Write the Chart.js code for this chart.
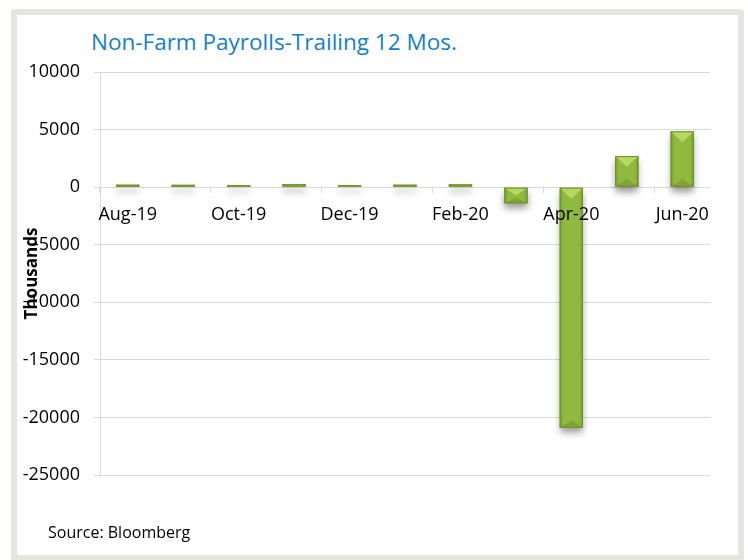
<!DOCTYPE html>
<html>
<head>
<meta charset="utf-8">
<script src="https://cdn.jsdelivr.net/npm/chart.js@4/dist/chart.umd.min.js"></script>
<style>
  body { margin: 0; background: #fff; font-family: 'Open Sans', sans-serif; }
  #wrap { position: relative; width: 748px; height: 560px; overflow: hidden; }
  .frame {
    position: absolute; left: 11px; top: 9px; width: 721px; height: 540px;
    border: 6px solid #e6e6e1; border-radius: 3px; background: #fff;
  }
  .title {
    position: absolute; left: 91px; top: 26px; color: #127fce;
    font-size: 22.5px; white-space: nowrap;
  }
  .source {
    position: absolute; left: 48px; top: 521px; color: #000;
    font-size: 16px; white-space: nowrap;
  }
  canvas { position: absolute; left: 0; top: 0; }
</style>
</head>
<body>
<div id="wrap">
  <div class="frame"></div>
  <div class="title">Non-Farm Payrolls-Trailing 12 Mos.</div>
  <canvas id="nfp" width="748" height="560"></canvas>
  <div class="source">Source: Bloomberg</div>
</div>
<script>
const months = ['Aug-19', 'Sep-19', 'Oct-19', 'Nov-19', 'Dec-19', 'Jan-20', 'Feb-20', 'Mar-20', 'Apr-20', 'May-20', 'Jun-20'];
const payrolls = [210, 200, 180, 260, 180, 210, 250, -1400, -20900, 2700, 4850];
const yTicks = [10000, 5000, 0, -5000, -10000, -15000, -20000, -25000];

const gridGray = '#d9d9d9';
const barGreen = '#8fb93f';

// Excel-style bevel: light wedge on top, darker wedge at the bottom, soft shadow
const bevelBars = {
  id: 'bevelBars',
  beforeDatasetsDraw(c) {
    c.ctx.save();
    c.ctx.shadowColor = 'rgba(0,0,0,0.4)';
    c.ctx.shadowBlur = 7;
    c.ctx.shadowOffsetY = 5;
  },
  afterDatasetsDraw(c) {
    const { ctx } = c;
    ctx.restore();
    c.getDatasetMeta(0).data.forEach((bar) => {
      const top = Math.min(bar.y, bar.base);
      const bottom = Math.max(bar.y, bar.base);
      const left = bar.x - bar.width / 2;
      const right = bar.x + bar.width / 2;
      const d = Math.min(bar.width / 2, (bottom - top) / 2, 11);
      ctx.save();
      // sides
      ctx.fillStyle = '#83ab36';
      ctx.fillRect(left, top, 3, bottom - top);
      ctx.fillRect(right - 3, top, 3, bottom - top);
      // top wedge
      ctx.fillStyle = '#b4d960';
      ctx.beginPath();
      ctx.moveTo(left, top);
      ctx.lineTo(right, top);
      ctx.lineTo(bar.x, top + d);
      ctx.closePath();
      ctx.fill();
      // bottom wedge
      ctx.fillStyle = '#80a533';
      ctx.beginPath();
      ctx.moveTo(left, bottom);
      ctx.lineTo(right, bottom);
      ctx.lineTo(bar.x, bottom - d * 0.7);
      ctx.closePath();
      ctx.fill();
      ctx.strokeStyle = '#6f8f2a';
      ctx.lineWidth = 1;
      ctx.strokeRect(left + 0.5, top + 0.5, bar.width - 1, Math.max(bottom - top - 1, 0));
      ctx.restore();
    });
  },
};

const ctx = document.getElementById('nfp');
// eslint-disable-next-line no-unused-vars
const chart = new Chart(ctx, {
  type: 'bar',
  data: {
    labels: months,
    datasets: [{
      label: 'Non-Farm Payrolls',
      data: payrolls,
      backgroundColor: barGreen,
      borderWidth: 0,
      categoryPercentage: 1,
      barPercentage: 0.42,
    }],
  },
  options: {
    responsive: false,
    animation: false,
    layout: {
      padding: { top: 72, bottom: 85, left: 0, right: 38 },
    },
    scales: {
      x: {
        position: { y: 0 },
        afterFit: (scale) => { scale.height = 0; },
        grid: {
          offset: true,
          drawOnChartArea: false,
          tickLength: 6,
          color: (c) => (c.index % 2 === 0 ? gridGray : 'rgba(0,0,0,0)'),
        },
        border: { display: false },
        ticks: {
          z: 1, // month labels sit on top of the bars
          autoSkip: false,
          maxRotation: 0,
          padding: 11,
          color: '#000',
          font: { family: 'Open Sans', size: 18 },
          callback: (value, index) => (index % 2 === 0 ? months[index] : ''),
        },
      },
      y: {
        min: yTicks[yTicks.length - 1],
        max: yTicks[0],
        afterFit: (scale) => { scale.width = 100; },
        afterBuildTicks: (scale) => { scale.ticks = yTicks.map((v) => ({ value: v })); },
        grid: { color: gridGray, tickLength: 6 },
        border: { color: gridGray },
        ticks: {
          padding: 14,
          color: '#000',
          font: { family: 'Open Sans', size: 18 },
          callback: (value) => String(value),
        },
        title: {
          display: true,
          text: 'Thousands',
          color: '#000',
          font: { family: 'Open Sans', size: 17, weight: 'bold' },
          padding: { top: 22, bottom: 0 },
        },
      },
    },
    plugins: {
      legend: { display: false },
      tooltip: { enabled: false },
    },
  },
  plugins: [bevelBars],
});
</script>
</body>
</html>
